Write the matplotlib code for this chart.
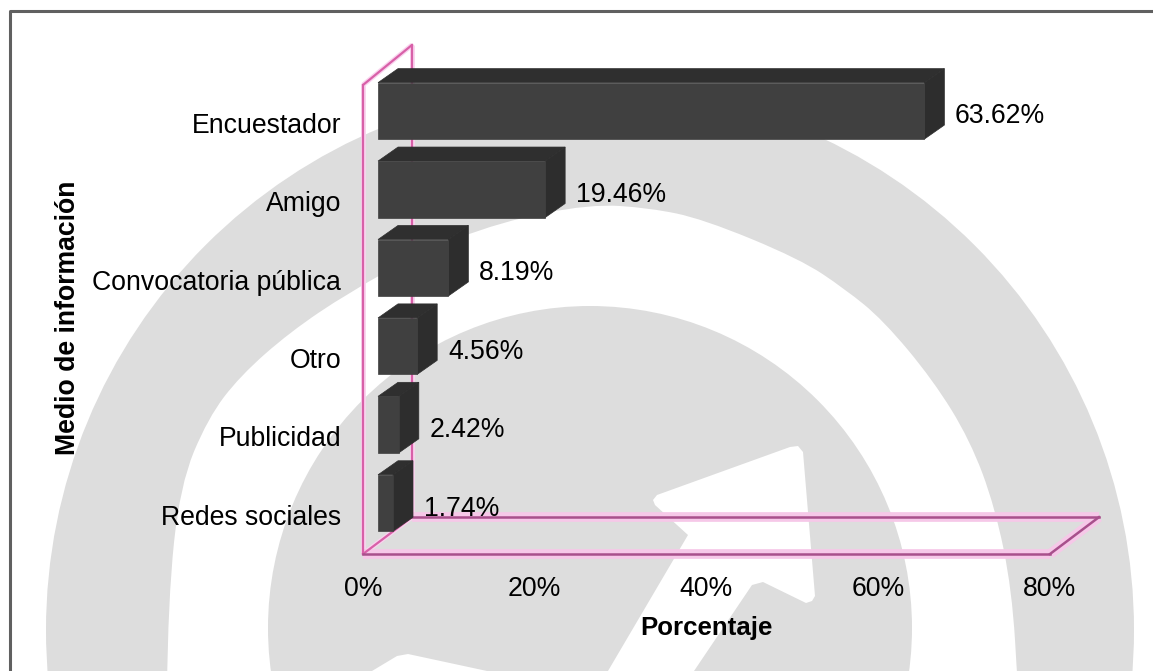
import matplotlib
matplotlib.use('Agg')
import matplotlib.pyplot as plt
from matplotlib.patches import Circle, Polygon, PathPatch
from matplotlib.path import Path

categorias = ['Encuestador', 'Amigo', 'Convocatoria pública', 'Otro', 'Publicidad', 'Redes sociales']
porcentajes = [63.62, 19.46, 8.19, 4.56, 2.42, 1.74]
x_ticks = [0, 20, 40, 60, 80]

plt.rcParams['font.family'] = ['Liberation Sans', 'DejaVu Sans']

fig = plt.figure(figsize=(11.53, 6.71), dpi=100, facecolor='white')

# marca de agua de fondo, en pixeles de la imagen
bg = fig.add_axes([0, 0, 1, 1])
bg.set_xlim(0, 1153)
bg.set_ylim(671, 0)
bg.axis('off')
gris = '#dddddd'
bg.add_patch(Circle((590, 630), 544, color=gris, lw=0))

# borde interior del anillo, suavizado con curvas
borde = [(167, 690), (168, 600), (180, 485), (208, 418), (240, 376), (290, 332), (348, 293),
         (420, 253), (500, 222), (590, 204), (650, 208), (703, 219), (800, 259), (845, 289),
         (883, 320), (933, 380), (970, 440), (995, 507), (1012, 590), (1018, 690)]
verts = [borde[0]]
codes = [Path.MOVETO]
for a, b in zip(borde[1:-1], borde[2:]):
    verts += [a, ((a[0] + b[0]) / 2, (a[1] + b[1]) / 2)]
    codes += [Path.CURVE3, Path.CURVE3]
verts += [borde[-1], borde[0]]
codes += [Path.LINETO, Path.CLOSEPOLY]
bg.add_patch(PathPatch(Path(verts, codes), color='white', lw=0))

bg.add_patch(Circle((590, 628), 322, color=gris, lw=0))
bg.add_patch(Polygon([(790, 447), (798, 446), (803, 452), (815, 596), (812, 601), (806, 603), (763, 582),
                      (752, 585), (694, 671), (608, 671), (688, 535), (655, 505), (653, 500), (657, 495)],
                     color='white', lw=0))
bg.add_patch(Polygon([(372, 671), (397, 656), (408, 654), (487, 671)], color='white', lw=0))
bg.plot([10, 10, 1153], [671, 11, 11], color='#606060', lw=2.2)

ax = fig.add_axes([363 / 1153, 1 - 554 / 671, 687 / 1153, 469 / 671])
ax.patch.set_alpha(0)
ax.set_xlim(0, 80)
ax.set_ylim(5.65, -0.33)
for s in ax.spines.values():
    s.set_visible(False)

# pared y piso con el rosa del original
dx = 5.7
dy = 0.47
y_top = -0.33
y_bot = 5.65
pared = [([0, 0], [y_bot, y_top]),
         ([0, dx], [y_top, y_top - 0.51]),
         ([dx, dx], [y_top - 0.51, y_bot - dy]),
         ([0, dx], [y_bot, y_bot - dy])]
piso = [([0, 80], [y_bot, y_bot]),
        ([80, 80 + dx], [y_bot, y_bot - dy]),
        ([dx, 80 + dx], [y_bot - dy, y_bot - dy])]
for xs, ys in pared:
    ax.plot(xs, ys, color='#f9d3ee', lw=3.5, clip_on=False, zorder=1, solid_capstyle='butt')
for xs, ys in piso:
    ax.plot(xs, ys, color='#f6c8e8', lw=7, clip_on=False, zorder=1, solid_capstyle='butt')
for xs, ys in pared:
    ax.plot(xs, ys, color='#d860a8', lw=1.6, clip_on=False, zorder=1.5)
for xs, ys in piso:
    ax.plot(xs, ys, color='#a8508c', lw=1.8, clip_on=False, zorder=1.5)

# barras con falso 3D
base = 1.75
alto = 0.36
prof_x = 2.33
prof_y = 0.179
for i, v in enumerate(porcentajes):
    x0 = base
    x1 = base + v
    y0 = i - alto
    y1 = i + alto
    ax.add_patch(Polygon([(x0, y0), (x1, y0), (x1 + prof_x, y0 - prof_y), (x0 + prof_x, y0 - prof_y)],
                         color='#2f2f2f', lw=0.5, clip_on=False, zorder=3))
    ax.add_patch(Polygon([(x1, y0), (x1 + prof_x, y0 - prof_y), (x1 + prof_x, y1 - prof_y), (x1, y1)],
                         color='#2d2d2d', lw=0.5, clip_on=False, zorder=3))
    ax.add_patch(Polygon([(x0, y0), (x1, y0), (x1, y1), (x0, y1)],
                         color='#404040', lw=0.5, clip_on=False, zorder=4))
    ax.text(x1 + prof_x + 1.25, i + 0.07, f'{v:.2f}%', fontsize=19.2, va='center', ha='left',
            color='black', zorder=5)

ax.set_xticks(x_ticks)
ax.set_xticklabels([f'{t}%' for t in x_ticks], fontsize=19.2)
ax.set_yticks([i + 0.15 for i in range(len(categorias))])
ax.set_yticklabels(categorias, fontsize=19.2)
ax.tick_params(axis='x', length=0, pad=16)
ax.tick_params(axis='y', length=0, pad=15.8)

ax.set_xlabel('Porcentaje', fontsize=18.6, fontweight='bold')
ax.xaxis.set_label_coords(0.5, -0.132)
ax.set_ylabel('Medio de información', fontsize=19.2, fontweight='bold')
ax.yaxis.set_label_coords(-0.41, 0.504)

fig.savefig('out.png', dpi=100)
